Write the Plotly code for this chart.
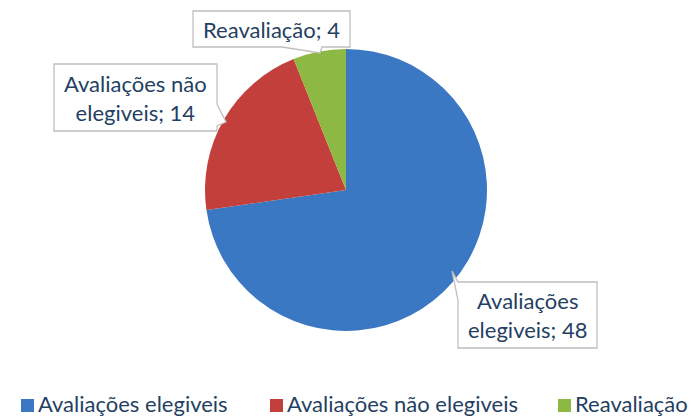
import plotly.graph_objects as go

categories = ["Avaliações elegiveis", "Avaliações não elegiveis", "Reavaliação"]
values = [48, 14, 4]
colors = ["#3B78C4", "#C23F3B", "#8DB843"]
label_texts = ["Avaliações<br>elegiveis; 48", "Avaliações não<br>elegiveis; 14", "Reavaliação; 4"]

W, H = 691, 417
FONT = "Lato"
TXT = "#243F62"

def px(x):
    return x / W

def py(y):
    return 1 - y / H

cx, cy, r = 346, 190, 141

fig = go.Figure()
fig.add_trace(go.Pie(
    labels=categories, values=values, sort=False, direction="clockwise",
    rotation=0, textinfo="none", hoverinfo="label+value",
    marker=dict(colors=colors, line=dict(width=0)),
    domain=dict(x=[px(cx - r), px(cx + r)], y=[py(cy + r), py(cy - r)]),
    showlegend=False,
))

def path(points):
    s = "M " + " L ".join(f"{px(x)},{py(y)}" for x, y in points) + " Z"
    return s

shapes = []
boxes = [
    [(462, 282), (597, 282), (597, 348), (458, 348), (458, 300), (452, 271), (458, 282)],
    [(54, 64), (217, 64), (217, 104), (226, 122), (217, 126), (217, 131), (54, 131)],
    [(193, 11), (350, 11), (350, 47), (322, 47), (320, 53), (282, 47), (193, 47)],
]
for b in boxes:
    shapes.append(dict(type="path", xref="paper", yref="paper", path=path(b),
                       fillcolor="white", line=dict(color="#BFBFBF", width=1.3)))

annotations = []
centers = [(527.5, 315), (135.5, 98), (271.5, 29)]
for (x, y), t in zip(centers, label_texts):
    annotations.append(dict(x=px(x), y=py(y), xref="paper", yref="paper", text=t,
                            showarrow=False, xanchor="center", yanchor="middle",
                            font=dict(family=FONT, size=22, color=TXT), align="center"))

leg_x = [21, 270, 558]
for xm, c, name in zip(leg_x, colors, categories):
    shapes.append(dict(type="rect", xref="paper", yref="paper",
                       x0=px(xm), x1=px(xm + 13), y0=py(412), y1=py(399),
                       fillcolor=c, line=dict(width=0)))
    annotations.append(dict(x=px(xm + 15), y=py(403), xref="paper", yref="paper", text=name,
                            showarrow=False, xanchor="left", yanchor="middle",
                            font=dict(family=FONT, size=22, color=TXT)))

fig.update_layout(
    width=W, height=H, margin=dict(l=0, r=0, t=0, b=0),
    paper_bgcolor="white", plot_bgcolor="white",
    shapes=shapes, annotations=annotations, showlegend=False,
)
fig.write_html("out.html", config={"displayModeBar": False},
               post_script="document.body.style.margin='0';")
